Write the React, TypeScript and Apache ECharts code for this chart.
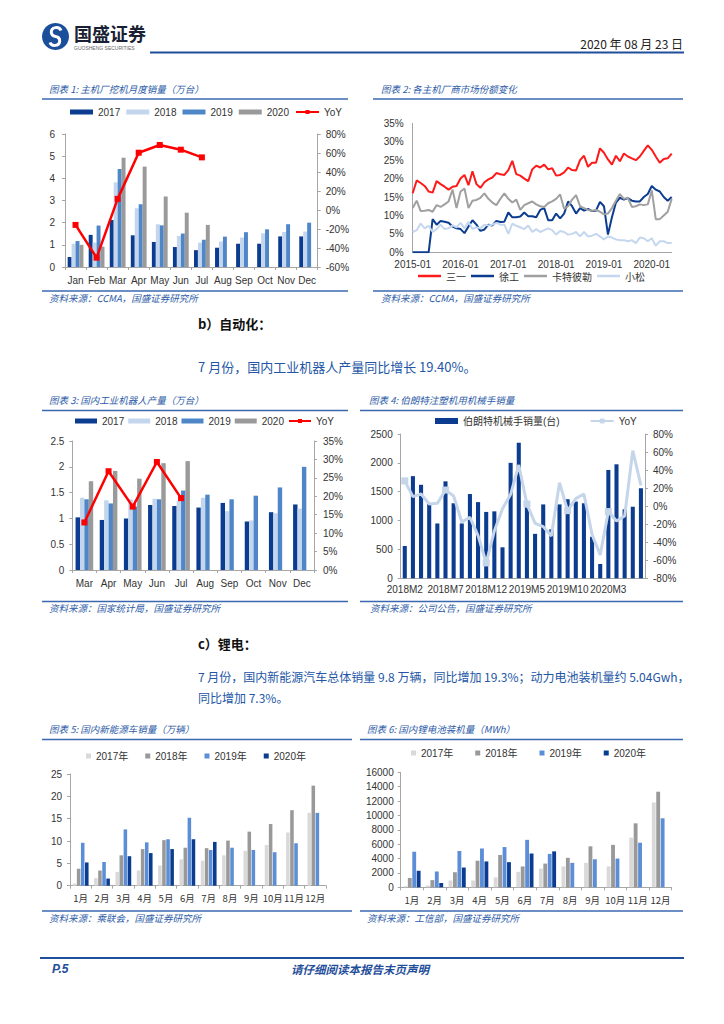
import React, { useEffect, useRef } from "react";
import * as echarts from "echarts";

// ---------- Data ----------
const EX_MONTHS = ["Jan", "Feb", "Mar", "Apr", "May", "Jun", "Jul", "Aug", "Sep", "Oct", "Nov", "Dec"];
const EX_2017 = [0.45, 1.45, 2.12, 1.43, 1.13, 0.9, 0.76, 0.87, 1.05, 1.05, 1.38, 1.38];
const EX_2018 = [1.05, 1.1, 3.82, 2.65, 1.93, 1.4, 1.1, 1.15, 1.33, 1.52, 1.58, 1.6];
const EX_2019 = [1.17, 1.87, 4.42, 2.83, 1.88, 1.51, 1.23, 1.37, 1.57, 1.7, 1.93, 2.0];
const EX_2020 = [1.0, 0.92, 4.93, 4.53, 3.18, 2.45, 1.9];
const EX_YOY = [-15.7, -50.2, 11.7, 60.3, 68.4, 63.5, 55.4];

const SHARE_MONTHS: string[] = [];
for (let y = 2015; y <= 2020; y++) {
  for (let m = 1; m <= 12; m++) {
    if (y === 2020 && m > 6) break;
    SHARE_MONTHS.push(`${y}-${String(m).padStart(2, "0")}`);
  }
}
const SANY = [16.0, 19.5, 18.8, 18.0, 16.5, 16.2, 19.3, 18.5, 17.8, 17.0, 17.8, 18.0,
  20.0, 21.0, 18.2, 22.0, 18.5, 17.5, 19.0, 19.8, 20.3, 21.5, 21.2, 21.0,
  22.3, 24.8, 21.2, 20.8, 20.0, 19.3, 22.5, 23.5, 23.0, 23.8, 22.5, 22.8,
  20.8, 21.0, 21.7, 23.0, 22.3, 22.2, 25.0, 26.2, 23.2, 24.3, 24.3, 28.2,
  27.0, 25.2, 23.8, 26.2, 24.7, 26.8, 26.0, 25.5, 25.0, 26.0, 27.5, 29.0,
  27.8, 26.0, 24.3, 25.3, 25.5, 26.8];
const XCMG = [0, 0, 0, 0, 0, 9.0, 7.5, 8.5, 8.3, 8.0, 7.0, 6.5,
  6.3, 5.2, 7.0, 8.7, 7.5, 5.8, 6.2, 7.5, 7.3, 8.5, 8.2, 8.3,
  10.8, 9.5, 9.5, 9.7, 10.8, 9.8, 9.8, 9.5, 11.5, 12.0, 8.7, 8.7,
  10.5, 9.2, 10.5, 13.8, 12.5, 10.5, 12.0, 11.3, 11.8, 11.2, 11.3, 13.7,
  12.5, 4.8, 9.5, 13.5, 14.8, 14.3, 14.7, 14.0, 13.8, 13.8, 15.0, 15.8,
  18.0, 17.0, 16.5, 15.0, 14.0, 15.0];
const CAT = [12.0, 14.0, 11.2, 11.3, 11.5, 11.0, 12.8, 12.3, 13.0, 13.8, 17.0, 12.0,
  16.5, 17.3, 12.0, 14.0, 14.2, 14.8, 16.0, 14.5, 13.5, 12.8, 14.5, 16.0,
  14.5, 13.5, 14.3, 11.5, 12.8, 13.3, 13.8, 13.0, 12.5, 12.3, 13.3, 13.8,
  14.5, 15.7, 11.8, 12.5, 14.3, 15.5, 12.5, 12.0, 11.5, 11.3, 11.5, 11.0,
  10.3, 10.5, 12.0, 14.0, 15.8, 14.5, 14.8, 12.3, 12.5, 13.0, 12.8, 13.0,
  16.8, 9.0, 9.0, 10.0, 11.0, 14.5];
const KOMATSU = [5.5, 6.0, 7.8, 6.5, 7.2, 5.5, 6.3, 7.5, 6.3, 6.5, 7.3, 6.8,
  8.0, 6.5, 8.3, 6.3, 6.8, 6.5, 7.5, 7.3, 7.5, 8.0, 7.5, 7.5,
  5.0, 7.8, 7.2, 6.8, 6.3, 7.3, 5.5, 6.3, 5.5, 6.0, 6.5, 6.0,
  4.8, 5.8, 5.5, 4.8, 5.0, 5.5, 4.3, 5.5, 4.3, 4.5, 5.0, 4.3,
  3.5, 4.3, 4.0, 3.5, 3.3, 3.3, 3.0, 3.3, 2.5, 4.0, 3.8, 3.0,
  3.8, 1.8, 3.0, 3.0, 2.5, 2.5];

const RB_MONTHS = ["Mar", "Apr", "May", "Jun", "Jul", "Aug", "Sep", "Oct", "Nov", "Dec"];
const RB_2017 = [1.02, 0.97, 1.0, 1.26, 1.24, 1.21, 1.3, 0.94, 1.12, 1.27];
const RB_2018 = [1.4, 1.35, 1.37, 1.38, 1.34, 1.4, 1.14, 0.96, 1.1, 1.19];
const RB_2019 = [1.37, 1.29, 1.23, 1.37, 1.54, 1.46, 1.37, 1.44, 1.6, 2.0];
const RB_2020 = [1.72, 1.92, 1.77, 2.07, 2.11];
const RB_YOY = [12.9, 26.8, 17.2, 29.3, 19.5];

const BR_MONTHS: string[] = [];
for (let i = 0; i < 30; i++) {
  const t = 1 + i;
  BR_MONTHS.push(`${2018 + Math.floor(t / 12)}M${(t % 12) + 1}`);
}
const BR_SALES = [560, 1770, 1620, 1300, 950, 1680, 1300, 950, 1460, 1320, 1150, 1160, 537, 2000, 2350,
  1230, 770, 1280, 850, 1280, 1370, 1330, 1300, 720, 248, 1877, 1975, 1195, 1240, 1560];
const BR_YOY = [28, 10.5, 13.5, 2.4, 3.1, 17.9, 11.3, -17.6, -12.4, -32.7, -63, -27.5, -2.8, 13.1, 45.6,
  2.4, -19, -22.7, -33, 26, -5, 8.3, 13.5, -31.6, -54, -6, -16.4, -10.9, 61.5, 23.1];

const CN_MONTHS = ["1月", "2月", "3月", "4月", "5月", "6月", "7月", "8月", "9月", "10月", "11月", "12月"];
const NEV_2017 = [0.5, 1.7, 3.1, 3.4, 4.5, 5.9, 5.6, 6.8, 7.8, 9.1, 11.9, 16.3];
const NEV_2018 = [3.8, 3.4, 6.8, 8.2, 10.2, 8.5, 8.4, 10.1, 12.1, 13.8, 16.9, 22.4];
const NEV_2019 = [9.6, 5.3, 12.6, 9.7, 10.4, 15.2, 8.0, 8.5, 8.0, 7.5, 9.5, 16.3];
const NEV_2020 = [5.2, 1.6, 6.6, 7.3, 8.2, 10.4, 9.8];

const BAT_2017 = [150, 250, 950, 950, 1400, 2150, 2600, 2900, 3400, 2900, 6900, 11800];
const BAT_2018 = [1300, 1000, 2100, 3700, 4500, 2900, 3300, 4100, 5700, 5900, 8900, 13300];
const BAT_2019 = [4950, 2200, 5050, 5400, 5600, 6600, 4650, 3400, 3900, 4000, 6200, 9600];
const BAT_2020 = [2300, 600, 2750, 3600, 3500, 4700, 5000];

// ---------- Styles ----------
const FONT = "'Liberation Sans', Arial, 'Noto Sans CJK SC', sans-serif";
const CJK = "'Noto Sans CJK SC', sans-serif";
const DARK = "#0b3c8f";
const LIGHT = "#c3d6ee";
const MID = "#4f86c8";
const GRAY = "#9a9a9a";
const RED = "#ff0000";
const AX = "#a6a6a6";
const TITLE_BLUE = "#2e5ca8";
const TEXT_BLUE = "#2356a6";

const plain = (v: number) => String(v);
const lab = (extra: any = {}) => ({ color: "#333", fontSize: 10, fontFamily: FONT, ...extra });
const axLine = { show: true, lineStyle: { color: AX, width: 1 } };
const tick = { show: true, length: 3, lineStyle: { color: AX } };

function catX(gridIndex: number, data: string[], extra: any = {}) {
  return {
    type: "category", gridIndex, data,
    axisLine: axLine, axisTick: tick,
    axisLabel: lab({ margin: 8, interval: 0 }),
    splitLine: { show: false },
    ...extra,
  };
}
function valY(gridIndex: number, min: number, max: number, interval: number, extra: any = {}) {
  return {
    type: "value", gridIndex, min, max, interval,
    axisLine: axLine, axisTick: tick,
    axisLabel: lab({ margin: 9, formatter: plain }),
    splitLine: { show: false },
    ...extra,
  };
}
function bar(name: string, data: number[], color: string, xi: number, yi: number, extra: any = {}) {
  return {
    type: "bar", name, data, xAxisIndex: xi, yAxisIndex: yi,
    itemStyle: { color }, barGap: "0%", barCategoryGap: "25%",
    emphasis: { disabled: true }, ...extra,
  };
}
function txt(x: number, y: number, text: string, o: any = {}) {
  return {
    type: "text", x, y, silent: true,
    style: {
      text, fill: o.fill || "#333", fontSize: o.size || 10, fontFamily: o.family || CJK,
      fontStyle: o.italic ? "italic" : "normal", fontWeight: o.bold ? "bold" : "normal",
      align: o.align || "left", verticalAlign: "middle",
    },
  };
}
function hline(x1: number, x2: number, y: number, color: string, w: number) {
  return { type: "line", silent: true, shape: { x1, y1: y, x2, y2: y }, style: { stroke: color, lineWidth: w } };
}

let shapeReady = false;
function ensureShape() {
  if (shapeReady) return;
  shapeReady = true;
  echarts.graphic.registerShape(
    "gslogo",
    echarts.graphic.extendPath("M 5.5 -6 A 5 4.5 0 1 0 0 0 A 5 4.5 0 1 1 -5.5 6", {})
  );
}

function buildOption(): any {
  const titleOpt = { fill: TITLE_BLUE, size: 9.5, italic: true };
  const srcOpt = { fill: TITLE_BLUE, size: 9.5, italic: true };
  const graphic: any[] = [
    // header
    { type: "circle", silent: true, shape: { cx: 55.5, cy: 36.5, r: 13.5 }, style: { fill: "#1b4f9c" } },
    { type: "gslogo", silent: true, x: 55.5, y: 36.5, scaleX: 1, scaleY: 1, style: { stroke: "#fff", lineWidth: 3, fill: "none" } },
    txt(74, 33, "国盛证券", { size: 18, bold: true, fill: "#1a1f33" }),
    txt(74, 48, "GUOSHENG SECURITIES", { size: 5, fill: "#666", family: FONT }),
    txt(683, 43, "2020 年 08 月 23 日", { size: 12, fill: "#222", align: "right" }),
    hline(150, 684, 52.5, "#1f4e9a", 2),
    // chart titles & rules
    txt(49, 89, "图表 1: 主机厂挖机月度销量（万台）", titleOpt),
    hline(42, 348, 99, "#3a68b0", 1.5),
    txt(381, 89, "图表 2: 各主机厂商市场份额变化", titleOpt),
    hline(373, 683, 99, "#3a68b0", 1.5),
    hline(42, 348, 291, "#3a68b0", 1.5),
    txt(49, 297.5, "资料来源：CCMA，国盛证券研究所", srcOpt),
    hline(373, 683, 291, "#3a68b0", 1.5),
    txt(381, 297.5, "资料来源：CCMA，国盛证券研究所", srcOpt),
    // section b
    txt(198, 323, "b）自动化：", { size: 13, bold: true, fill: "#111" }),
    txt(198, 366, "7 月份，国内工业机器人产量同比增长 19.40%。", { size: 13, fill: TEXT_BLUE }),
    txt(49, 400, "图表 3: 国内工业机器人产量（万台）", titleOpt),
    hline(42, 348, 410.5, "#3a68b0", 1.5),
    txt(369, 400, "图表 4: 伯朗特注塑机用机械手销量", titleOpt),
    hline(360, 683, 410.5, "#3a68b0", 1.5),
    hline(42, 348, 601.5, "#3a68b0", 1.5),
    txt(49, 608, "资料来源：国家统计局，国盛证券研究所", srcOpt),
    hline(360, 683, 601.5, "#3a68b0", 1.5),
    txt(370, 608, "资料来源：公司公告，国盛证券研究所", srcOpt),
    // section c
    txt(198, 643, "c）锂电：", { size: 13, bold: true, fill: "#111" }),
    txt(198, 676, "7 月份，国内新能源汽车总体销量 9.8 万辆，同比增加 19.3%；动力电池装机量约 5.04Gwh，", { size: 12, fill: TEXT_BLUE }),
    txt(198, 697, "同比增加 7.3%。", { size: 12, fill: TEXT_BLUE }),
    txt(49, 729, "图表 5: 国内新能源车销量（万辆）", titleOpt),
    hline(42, 352, 739.5, "#3a68b0", 1.5),
    txt(367, 729, "图表 6: 国内锂电池装机量（MWh）", titleOpt),
    hline(360, 683, 739.5, "#3a68b0", 1.5),
    hline(42, 352, 911, "#3a68b0", 1.5),
    txt(49, 918, "资料来源：乘联会，国盛证券研究所", srcOpt),
    hline(360, 683, 911, "#3a68b0", 1.5),
    txt(367, 918, "资料来源：工信部，国盛证券研究所", srcOpt),
    // footer
    hline(40, 684, 958, "#1f4e9a", 2),
    txt(52, 969, "P.5", { size: 12, bold: true, italic: true, fill: "#1f4e9a", family: FONT }),
    txt(360, 969, "请仔细阅读本报告末页声明", { size: 11.5, bold: true, italic: true, fill: "#1f4e9a", align: "center" }),
  ];

  const legText = { color: "#333", fontSize: 10, fontFamily: FONT };
  const legendBase = { padding: 0, textStyle: legText, selectedMode: false };
  const cnLab = lab({ margin: 8, interval: 0, fontFamily: CJK, fontSize: 9.5 });

  return {
    animation: false,
    backgroundColor: "#fff",
    grid: [
      { left: 65, top: 134, width: 252.7, height: 133 },
      { left: 412.7, top: 123.3, width: 259, height: 129 },
      { left: 72.3, top: 441, width: 241.7, height: 129 },
      { left: 400.7, top: 434, width: 244.3, height: 144.3 },
      { left: 70, top: 774, width: 256, height: 111.7 },
      { left: 400.7, top: 772.3, width: 271, height: 115 },
    ],
    legend: [
      { ...legendBase, left: 70, top: 107, itemWidth: 23, itemHeight: 5, itemGap: 6,
        data: [{ name: "2017", icon: "rect" }, { name: "2018", icon: "rect" }, { name: "2019", icon: "rect" }, { name: "2020", icon: "rect" }, "YoY"] },
      { ...legendBase, left: 418, top: 271, itemWidth: 23, itemHeight: 2.5, itemGap: 5,
        textStyle: { ...legText, fontFamily: CJK },
        data: [{ name: "三一", icon: "rect" }, { name: "徐工", icon: "rect" }, { name: "卡特彼勒", icon: "rect" }, { name: "小松", icon: "rect" }] },
      { ...legendBase, left: 75, top: 416, itemWidth: 22, itemHeight: 5, itemGap: 4,
        data: [{ name: "2017", icon: "rect" }, { name: "2018", icon: "rect" }, { name: "2019", icon: "rect" }, { name: "2020", icon: "rect" }, "YoY"] },
      { ...legendBase, left: 435, top: 416, itemWidth: 23, itemHeight: 6, itemGap: 30,
        data: [{ name: "伯朗特机械手销量(台)", icon: "rect" },
          { name: "YoY", itemStyle: { color: "#c5d5ea" }, lineStyle: { color: "#c5d5ea" } }] },
      { ...legendBase, left: 86, top: 751, itemWidth: 5, itemHeight: 5, itemGap: 17,
        data: [{ name: "2017年", icon: "rect" }, { name: "2018年", icon: "rect" }, { name: "2019年", icon: "rect" }, { name: "2020年", icon: "rect" }] },
      { ...legendBase, left: 411, top: 748, itemWidth: 5, itemHeight: 5, itemGap: 22,
        data: [{ name: "2017年", icon: "rect" }, { name: "2018年", icon: "rect" }, { name: "2019年", icon: "rect" }, { name: "2020年", icon: "rect" }] },
    ],
    xAxis: [
      catX(0, EX_MONTHS),
      catX(1, SHARE_MONTHS, { boundaryGap: false, axisTick: { show: false }, axisLabel: lab({ margin: 7, interval: 11 }) }),
      catX(2, RB_MONTHS),
      catX(3, BR_MONTHS, { axisTick: { show: false }, axisLabel: lab({ margin: 6, interval: 4 }) }),
      catX(4, CN_MONTHS, { axisLabel: cnLab }),
      catX(5, CN_MONTHS, { axisLabel: cnLab }),
    ],
    yAxis: [
      valY(0, 0, 6, 1, { axisLabel: lab({ margin: 10, formatter: plain }) }),
      valY(0, -60, 80, 20, { position: "right", axisLabel: lab({ margin: 8, formatter: "{value}%" }) }),
      valY(1, 0, 35, 5, { axisTick: { show: false }, axisLabel: lab({ margin: 9, formatter: "{value}%" }) }),
      valY(2, 0, 2.5, 0.5, { axisLabel: lab({ margin: 8, formatter: plain }) }),
      valY(2, 0, 35, 5, { position: "right", axisLabel: lab({ margin: 9, formatter: "{value}%" }) }),
      valY(3, 0, 2500, 500, { axisLabel: lab({ margin: 8, formatter: plain }) }),
      valY(3, -80, 80, 20, { position: "right", axisLabel: lab({ margin: 8, formatter: "{value}%" }) }),
      valY(4, 0, 25, 5, { axisLabel: lab({ margin: 8, formatter: plain }) }),
      valY(5, 0, 16000, 2000, { axisLabel: lab({ margin: 7, formatter: plain }) }),
    ],
    series: [
      // chart 1
      bar("2017", EX_2017, DARK, 0, 0),
      bar("2018", EX_2018, LIGHT, 0, 0),
      bar("2019", EX_2019, MID, 0, 0),
      bar("2020", EX_2020, GRAY, 0, 0),
      { type: "line", name: "YoY", data: EX_YOY, xAxisIndex: 0, yAxisIndex: 1, symbol: "rect", symbolSize: 6,
        lineStyle: { color: RED, width: 2.5 }, itemStyle: { color: RED }, z: 5 },
      // chart 2
      { type: "line", name: "三一", data: SANY, xAxisIndex: 1, yAxisIndex: 2, symbol: "none", lineStyle: { color: "#ff1a1a", width: 2 }, itemStyle: { color: "#ff1a1a" } },
      { type: "line", name: "徐工", data: XCMG, xAxisIndex: 1, yAxisIndex: 2, symbol: "none", lineStyle: { color: DARK, width: 2 }, itemStyle: { color: DARK } },
      { type: "line", name: "卡特彼勒", data: CAT, xAxisIndex: 1, yAxisIndex: 2, symbol: "none", lineStyle: { color: "#a0a0a0", width: 2 }, itemStyle: { color: "#a0a0a0" } },
      { type: "line", name: "小松", data: KOMATSU, xAxisIndex: 1, yAxisIndex: 2, symbol: "none", lineStyle: { color: "#c5d7ee", width: 2 }, itemStyle: { color: "#c5d7ee" } },
      // chart 3
      bar("2017", RB_2017, DARK, 2, 3, { barCategoryGap: "27%" }),
      bar("2018", RB_2018, LIGHT, 2, 3, { barCategoryGap: "27%" }),
      bar("2019", RB_2019, MID, 2, 3, { barCategoryGap: "27%" }),
      bar("2020", RB_2020, GRAY, 2, 3, { barCategoryGap: "27%" }),
      { type: "line", name: "YoY", data: RB_YOY, xAxisIndex: 2, yAxisIndex: 4, symbol: "rect", symbolSize: 6,
        lineStyle: { color: RED, width: 2.5 }, itemStyle: { color: RED }, z: 5 },
      // chart 4
      bar("伯朗特机械手销量(台)", BR_SALES, DARK, 3, 5, { barCategoryGap: "50%" }),
      { type: "line", name: "YoY", data: BR_YOY, xAxisIndex: 3, yAxisIndex: 6, symbol: "rect", symbolSize: 7,
        lineStyle: { color: "#c5d5ea", width: 3 }, itemStyle: { color: "#c5d5ea" }, z: 5 },
      // chart 5
      bar("2017年", NEV_2017, "#d9d9d9", 4, 7, { barGap: "15%", barCategoryGap: "26%" }),
      bar("2018年", NEV_2018, "#999999", 4, 7, { barGap: "15%", barCategoryGap: "26%" }),
      bar("2019年", NEV_2019, "#5b8ed6", 4, 7, { barGap: "15%", barCategoryGap: "26%" }),
      bar("2020年", NEV_2020, DARK, 4, 7, { barGap: "15%", barCategoryGap: "26%" }),
      // chart 6
      bar("2017年", BAT_2017, "#d9d9d9", 5, 8, { barGap: "15%", barCategoryGap: "24%" }),
      bar("2018年", BAT_2018, "#999999", 5, 8, { barGap: "15%", barCategoryGap: "24%" }),
      bar("2019年", BAT_2019, "#5b8ed6", 5, 8, { barGap: "15%", barCategoryGap: "24%" }),
      bar("2020年", BAT_2020, DARK, 5, 8, { barGap: "15%", barCategoryGap: "24%" }),
    ],
    graphic,
  };
}

export default function App() {
  const ref = useRef<HTMLDivElement>(null);
  useEffect(() => {
    if (!ref.current) return;
    ensureShape();
    const chart = echarts.init(ref.current, undefined, { renderer: "svg" });
    chart.setOption(buildOption());
    return () => chart.dispose();
  }, []);
  return (
    <div
      ref={ref}
      style={{ position: "absolute", left: 0, top: 0, width: 724, height: 1024, background: "#fff" }}
    />
  );
}
